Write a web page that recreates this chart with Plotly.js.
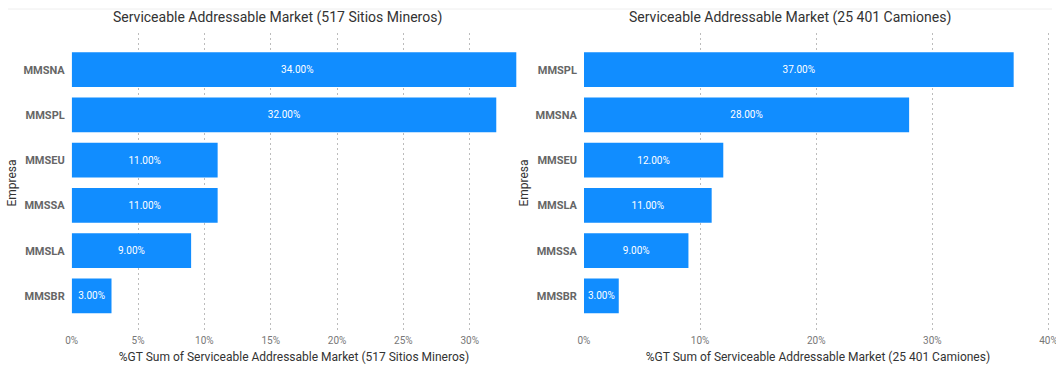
<!DOCTYPE html>
<html>
<head>
<meta charset="utf-8">
<script src="https://cdn.plot.ly/plotly-3.0.1.min.js"></script>
<style>html,body{margin:0;padding:0;background:#fff;}#chart{width:1056px;height:367px;}</style>
</head>
<body>
<div id="chart"></div>
<script>
// Left chart: Serviceable Addressable Market (517 Sitios Mineros)
const sitesCategories = ["MMSNA", "MMSPL", "MMSEU", "MMSSA", "MMSLA", "MMSBR"];
const sitesValues = [34, 32, 11, 11, 9, 3];
// Right chart: Serviceable Addressable Market (25 401 Camiones)
const trucksCategories = ["MMSPL", "MMSNA", "MMSEU", "MMSLA", "MMSSA", "MMSBR"];
const trucksValues = [37, 28, 12, 11, 9, 3];

const titleLeft = "Serviceable Addressable Market (517 Sitios Mineros)";
const titleRight = "Serviceable Addressable Market (25 401 Camiones)";
const xTitleLeft = "%GT Sum of Serviceable Addressable Market (517 Sitios Mineros)";
const xTitleRight = "%GT Sum of Serviceable Addressable Market (25 401 Camiones)";
const yTitle = "Empresa";

const FONT = "Roboto, 'DejaVu Sans', sans-serif";
const BAR = "#118DFF";
const W = 1056, H = 367;

function fmt(v) { return v.toFixed(2) + "%"; }

function barTrace(cats, vals, xa, ya) {
  return {
    type: "bar", orientation: "h",
    y: cats, x: vals, xaxis: xa, yaxis: ya,
    marker: {color: BAR, line: {width: 0}},
    width: 0.767,
    text: vals.map(fmt), textposition: "inside", insidetextanchor: "middle",
    textfont: {family: FONT, size: 10, color: "#ffffff"},
    constraintext: "none",
    hoverinfo: "skip", showlegend: false
  };
}

const gridStyle = {showgrid: true, gridcolor: "#bcbcbc", griddash: "2px,3px", gridwidth: 1, zeroline: false,
  showline: false, ticks: "", tickfont: {family: FONT, size: 10, color: "#777777"}, ticksuffix: "%",
  ticklabeloverflow: "allow", fixedrange: true};

const yStyle = {type: "category", autorange: false, range: [5.82, -0.81], showgrid: false, zeroline: false,
  showline: false, ticks: "", ticklabelstandoff: 6,
  tickfont: {family: FONT, size: 11, color: "#666666", weight: "bold"}, fixedrange: true};

const layout = {
  width: W, height: H,
  margin: {l: 0, r: 0, t: 0, b: 0},
  paper_bgcolor: "#ffffff", plot_bgcolor: "#ffffff",
  bargap: 0.233,
  xaxis: Object.assign({}, gridStyle, {domain: [71.7/W, 516.3/W], range: [0, 33.51], dtick: 5, tick0: 0,
    anchor: "y", title: {text: xTitleLeft, font: {family: FONT, size: 12, color: "#333333"}, standoff: 7}}),
  yaxis: Object.assign({}, yStyle, {domain: [34/H, 334/H], anchor: "x",
    title: {text: yTitle, font: {family: FONT, size: 12, color: "#333333"}, standoff: 4}}),
  xaxis2: Object.assign({}, gridStyle, {domain: [583.9/W, 1052.0/W], range: [0, 40.3], dtick: 10, tick0: 0,
    anchor: "y2", title: {text: xTitleRight, font: {family: FONT, size: 12, color: "#333333"}, standoff: 7}}),
  yaxis2: Object.assign({}, yStyle, {domain: [34/H, 334/H], anchor: "x2",
    title: {text: yTitle, font: {family: FONT, size: 12, color: "#333333"}, standoff: 4}}),
  annotations: [
    {text: titleLeft, xref: "paper", yref: "paper", x: 277/W, y: 1 - 17/H, xanchor: "center", yanchor: "middle",
      showarrow: false, font: {family: FONT, size: 14, color: "#333333"}},
    {text: titleRight, xref: "paper", yref: "paper", x: 790/W, y: 1 - 17/H, xanchor: "center", yanchor: "middle",
      showarrow: false, font: {family: FONT, size: 14, color: "#333333"}}
  ],
  shapes: [
    {type: "line", xref: "paper", yref: "paper", x0: 8/W, x1: 1052/W, y0: 1 - 9/H, y1: 1 - 9/H,
      line: {color: "#eeeeee", width: 1}}
  ]
};

Plotly.newPlot("chart", [
  barTrace(sitesCategories, sitesValues, "x", "y"),
  barTrace(trucksCategories, trucksValues, "x2", "y2")
], layout, {displayModeBar: false, staticPlot: true});
</script>
</body>
</html>
